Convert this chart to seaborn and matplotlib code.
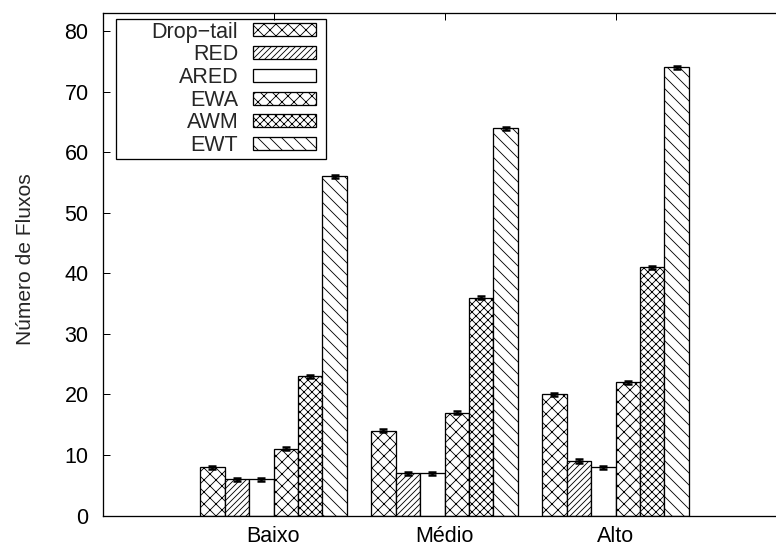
import matplotlib
matplotlib.use("Agg")
import matplotlib.pyplot as plt
import seaborn as sns
import pandas as pd
from matplotlib.patches import Rectangle

# ---- data ----
niveis = ["Baixo", "Médio", "Alto"]
algoritmos = ["Drop−tail", "RED", "ARED", "EWA", "AWM", "EWT"]
drop_tail = [8, 14, 20]
red = [6, 7, 9]
ared = [6, 7, 8]
ewa = [11, 17, 22]
awm = [23, 36, 41]
ewt = [56, 64, 74]
erros = [0.25, 0.25, 0.25]  # tiny confidence intervals
y_ticks = [0, 10, 20, 30, 40, 50, 60, 70, 80]
ylabel = "Número de Fluxos"

series = [drop_tail, red, ared, ewa, awm, ewt]
hatches = ["xx", "////", "", "xx", "xxx", "\\\\"]

rows = []
for alg, vals in zip(algoritmos, series):
    for nivel, v in zip(niveis, vals):
        rows.append({"nivel": nivel, "alg": alg, "fluxos": v})
df = pd.DataFrame(rows)

sns.set_theme(style="white")
plt.rcParams["font.family"] = ["Liberation Sans", "DejaVu Sans"]
plt.rcParams["hatch.linewidth"] = 0.85
plt.rcParams["hatch.color"] = "black"

W, H, DPI = 776, 552, 72
fig = plt.figure(figsize=(W / DPI, H / DPI), dpi=DPI)
ax = fig.add_axes([102.5 / W, 36.5 / H, 684 / W, 502.5 / H])

sns.barplot(data=df, x="nivel", y="fluxos", hue="alg", order=niveis,
            hue_order=algoritmos, width=6 / 7, errorbar=None,
            palette=["white"] * 6, edgecolor="black", linewidth=1.3,
            saturation=1, ax=ax, legend=False)

handles = []
for cont, hatch, alg in zip(ax.containers, hatches, algoritmos):
    for p in cont.patches:
        p.set_facecolor("white")
        p.set_edgecolor("black")
        p.set_hatch(hatch)
    xs = [p.get_x() + p.get_width() / 2 for p in cont.patches]
    ys = [p.get_height() for p in cont.patches]
    ax.errorbar(xs, ys, yerr=erros, fmt="none", ecolor="black",
                elinewidth=2.5, capsize=4, capthick=2.5, zorder=5)
    h = Rectangle((0, 0), 1, 1, facecolor="white", edgecolor="black",
                  hatch=hatch, linewidth=1.3, label=alg)
    handles.append(h)

ax.set_xlim(-1, 3)
ax.set_ylim(0, 83)
ax.set_yticks(y_ticks)
ax.set_xlabel("")
ax.set_ylabel(ylabel, fontsize=21)
ax.yaxis.set_label_coords(-0.098, 0.51)

for s in ax.spines.values():
    s.set_color("black")
    s.set_linewidth(1.3)

ax.tick_params(axis="both", direction="in", length=7, width=1.0,
               labelsize=21.5, colors="black")
ax.tick_params(axis="y", left=True, right=True, pad=14)
ax.tick_params(axis="x", bottom=True, top=True, pad=10)

leg = ax.legend(handles=handles, loc="upper left",
                bbox_to_anchor=((149 - 102.5) / 684, (515.5 - 19) / 502.5),
                markerfirst=False, fontsize=21.5, frameon=False,
                handlelength=2.9, handleheight=0.55, handletextpad=0.7,
                labelspacing=0.08, borderpad=0.12, borderaxespad=0)

fig.canvas.draw()
bb = leg.get_window_extent(fig.canvas.get_renderer())
frame = Rectangle((bb.x0 - 33, bb.y0), bb.width + 33 + 8, bb.height,
                  transform=None, fill=False, edgecolor="black",
                  linewidth=1.3, zorder=10)
fig.patches.append(frame)

fig.savefig("out.png", dpi=DPI, facecolor="white")
